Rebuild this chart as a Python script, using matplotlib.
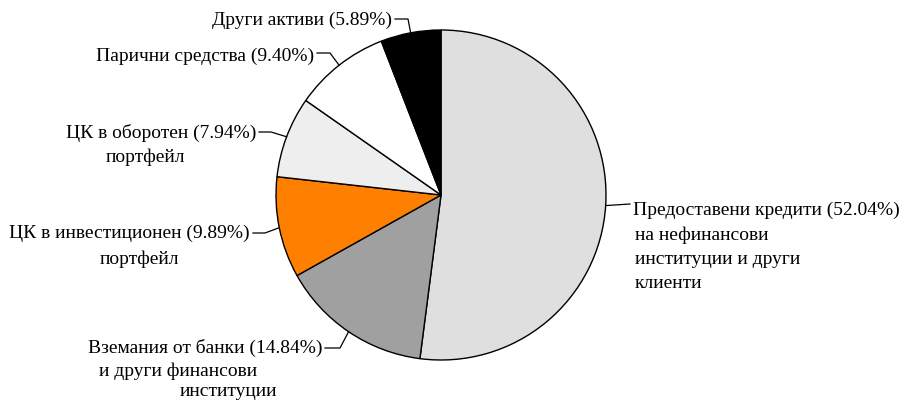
import numpy as np
import matplotlib.pyplot as plt

labels = [
    "Предоставени кредити",
    "Вземания от банки",
    "ЦК в инвестиционен",
    "ЦК в оборотен",
    "Парични средства",
    "Други активи",
]
shares = [52.04, 14.84, 9.89, 7.94, 9.40, 5.89]
colors = ["#dfdfdf", "#a0a0a0", "#ff8000", "#eeeeee", "#ffffff", "#000000"]

# extra wrapped lines under each label
extra_lines = [
    ["на нефинансови", "институции и други", "клиенти"],
    ["и други финансови", "институции"],
    ["портфейл"],
    ["портфейл"],
    [],
    [],
]

plt.rcParams['font.family'] = ['Liberation Serif', 'DejaVu Serif']

W, H = 906, 403
CX, CY, R = 441, 195, 165


def px(x, y):
    # pixel position -> data units (radius 1, centre at origin)
    return (x - CX) / R, (CY - y) / R


fig = plt.figure(figsize=(W / 100, H / 100), dpi=100)
ax = fig.add_axes([0, 0, 1, 1])

wedges, _ = ax.pie(shares, colors=colors, startangle=90, counterclock=False,
                   radius=1, center=(0, 0), frame=True,
                   wedgeprops=dict(edgecolor='black', linewidth=1.0))
ax.set_xlim(-CX / R, (W - CX) / R)
ax.set_ylim(-(H - CY) / R, CY / R)
ax.set_aspect('auto')
ax.axis('off')

# leader layout: elbow point, text anchor, side
layout = [
    ((630, 204), (633, 210), 'left'),
    ((340, 348), (322, 348), 'right'),
    ((265, 233), (250, 233), 'right'),
    ((271, 132), (256, 133), 'right'),
    ((330, 53), (314, 56), 'right'),
    ((408, 19), (392, 20), 'right'),
]
# centres of the wrapped lines (pixel x, y)
extra_pos = [
    [(635, 235), (635, 259), (635, 283)],
    [(178, 371), (228, 391)],
    [(139, 259)],
    [(145, 157)],
    [],
    [],
]

fs = 14
for w, lab, val, (elb, anc, side), ext, epos in zip(
        wedges, labels, shares, layout, extra_lines, extra_pos):
    ang = np.deg2rad((w.theta1 + w.theta2) / 2)
    x0, y0 = np.cos(ang), np.sin(ang)
    ex, ey = px(*elb)
    tx, ty = px(*anc)
    lx = tx + (3 / R if side == 'right' else -3 / R)
    ax.plot([x0, ex, lx], [y0, ey, ey], color='black', lw=0.9)
    ax.text(tx, ty, f"{lab} ({val:.2f}%)", ha=side, va='center', fontsize=fs)
    for line, (ex2, ey2) in zip(ext, epos):
        qx, qy = px(ex2, ey2)
        ax.text(qx, qy, line, ha='left' if side == 'left' else 'center',
                va='center', fontsize=fs)

fig.savefig("out.png", dpi=100, facecolor='white')
